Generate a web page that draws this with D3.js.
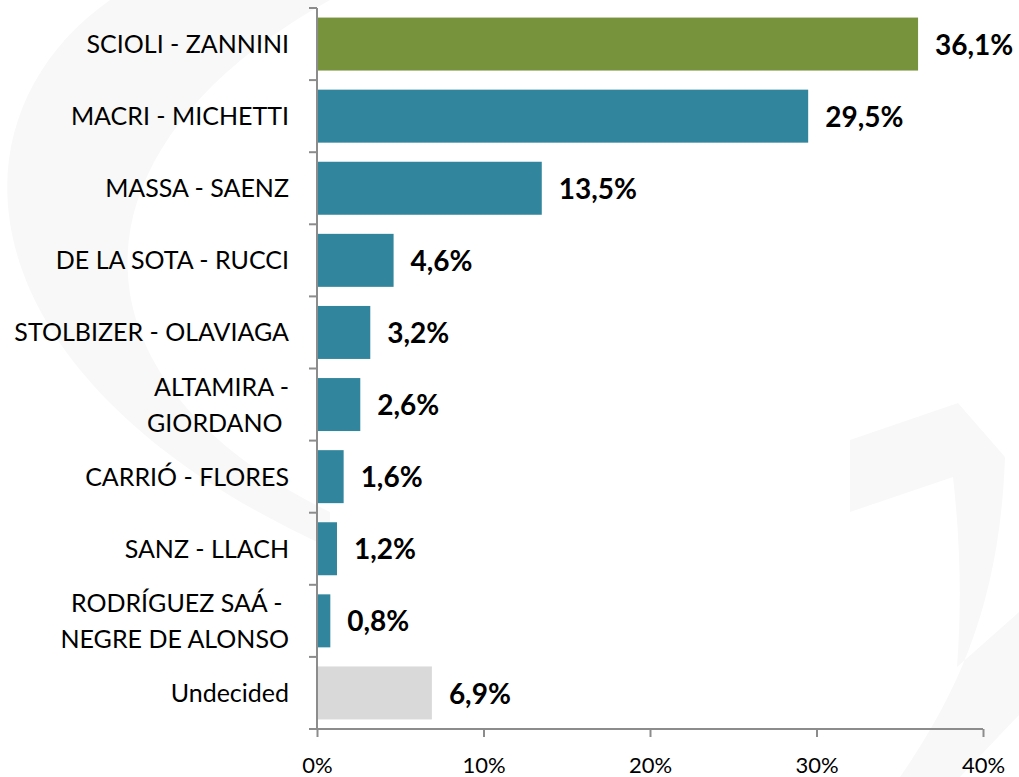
<!DOCTYPE html>
<html>
<head>
<meta charset="utf-8">
<script src="https://cdn.jsdelivr.net/npm/d3@7"></script>
<style>
  html, body { margin: 0; padding: 0; background: #fff; }
  svg { display: block; }
</style>
</head>
<body>
<div id="chart"></div>
<script>
// Data
var categories = [
  "SCIOLI - ZANNINI",
  "MACRI - MICHETTI",
  "MASSA - SAENZ",
  "DE LA SOTA - RUCCI",
  "STOLBIZER - OLAVIAGA",
  "ALTAMIRA -\nGIORDANO ",
  "CARRIÓ - FLORES",
  "SANZ - LLACH",
  "RODRÍGUEZ SAÁ - \nNEGRE DE ALONSO",
  "Undecided"
];
var values = [36.1, 29.5, 13.5, 4.6, 3.2, 2.6, 1.6, 1.2, 0.8, 6.9];
var tickValues = [0, 10, 20, 30, 40];

var width = 1019;
var height = 777;

var svg = d3.select("#chart")
  .append("svg")
  .attr("width", width)
  .attr("height", height);

// faint logo watermark in the background
var wm = svg.append("g").attr("fill", "#f8f8f8");
wm.append("path")
  .attr("d", "M110,0 C-60,120 -40,380 330,548 L330,512 C60,380 60,150 330,0 Z");
wm.append("path")
  .attr("d", "M850,440 L958,403 L1005,457 C1000,600 960,690 900,777 L960,777 L1019,715 L1019,612 L957,667 C962,600 960,540 953,477 L850,512 Z");

var x = d3.scaleLinear()
  .domain([0, 40])
  .range([317, 983]);

var y = d3.scaleBand()
  .domain(d3.range(categories.length))
  .range([8, 729])
  .paddingInner(0.265)
  .paddingOuter(0.1325);

function barColor(i) {
  if (i === 0) return "#77933c";
  if (categories[i] === "Undecided") return "#d9d9d9";
  return "#31859c";
}

// bars
svg.append("g")
  .selectAll("rect")
  .data(values)
  .join("rect")
  .attr("x", x(0))
  .attr("y", (d, i) => y(i))
  .attr("width", d => x(d) - x(0))
  .attr("height", y.bandwidth())
  .attr("fill", (d, i) => barColor(i));

// value labels
svg.append("g")
  .attr("font-family", "Lato, sans-serif")
  .attr("font-weight", "bold")
  .attr("font-size", 28)
  .selectAll("text")
  .data(values)
  .join("text")
  .attr("x", d => x(d) + 17)
  .attr("y", (d, i) => y(i) + y.bandwidth() / 2)
  .attr("dy", "0.38em")
  .attr("fill", "#000")
  .text(d => d.toFixed(1).replace(".", ",") + "%");

// y axis: line + ticks at band boundaries
var axisColor = "#8c8c8c";
var yAxis = svg.append("g")
  .attr("stroke", axisColor)
  .attr("stroke-width", 2);
yAxis.append("line")
  .attr("x1", x(0)).attr("x2", x(0))
  .attr("y1", 8).attr("y2", 729);
yAxis.selectAll("line.tick")
  .data(d3.range(categories.length + 1))
  .join("line")
  .attr("class", "tick")
  .attr("x1", x(0) - 8).attr("x2", x(0))
  .attr("y1", i => 8 + i * y.step())
  .attr("y2", i => 8 + i * y.step());

// category labels
var labels = svg.append("g")
  .attr("font-family", "Lato, sans-serif")
  .attr("font-size", 25)
  .attr("fill", "#000")
  .attr("text-anchor", "end")
  .selectAll("text")
  .data(categories)
  .join("text")
  .attr("x", 289)
  .attr("y", (d, i) => y(i) + y.bandwidth() / 2)
  .attr("xml:space", "preserve");

labels.each(function(d) {
  var lines = d.split("\n");
  var t = d3.select(this);
  lines.forEach(function(line, k) {
    t.append("tspan")
      .attr("x", 289)
      .attr("dy", k === 0 ? ((0.36 - (lines.length - 1) * 0.72) + "em") : "1.44em")
      .text(line);
  });
});

// x axis
var xAxis = svg.append("g")
  .attr("transform", "translate(0,729)")
  .call(d3.axisBottom(x)
    .tickValues(tickValues)
    .tickSize(8)
    .tickPadding(20)
    .tickFormat(d => d + "%"));
xAxis.select(".domain")
  .attr("stroke", axisColor)
  .attr("stroke-width", 2)
  .attr("d", "M" + x(0) + ",0H" + x(40));
xAxis.selectAll(".tick line")
  .attr("stroke", axisColor)
  .attr("stroke-width", 2);
xAxis.selectAll(".tick text")
  .attr("font-family", "Lato, sans-serif")
  .attr("font-size", 22)
  .attr("fill", "#000");
</script>
</body>
</html>
